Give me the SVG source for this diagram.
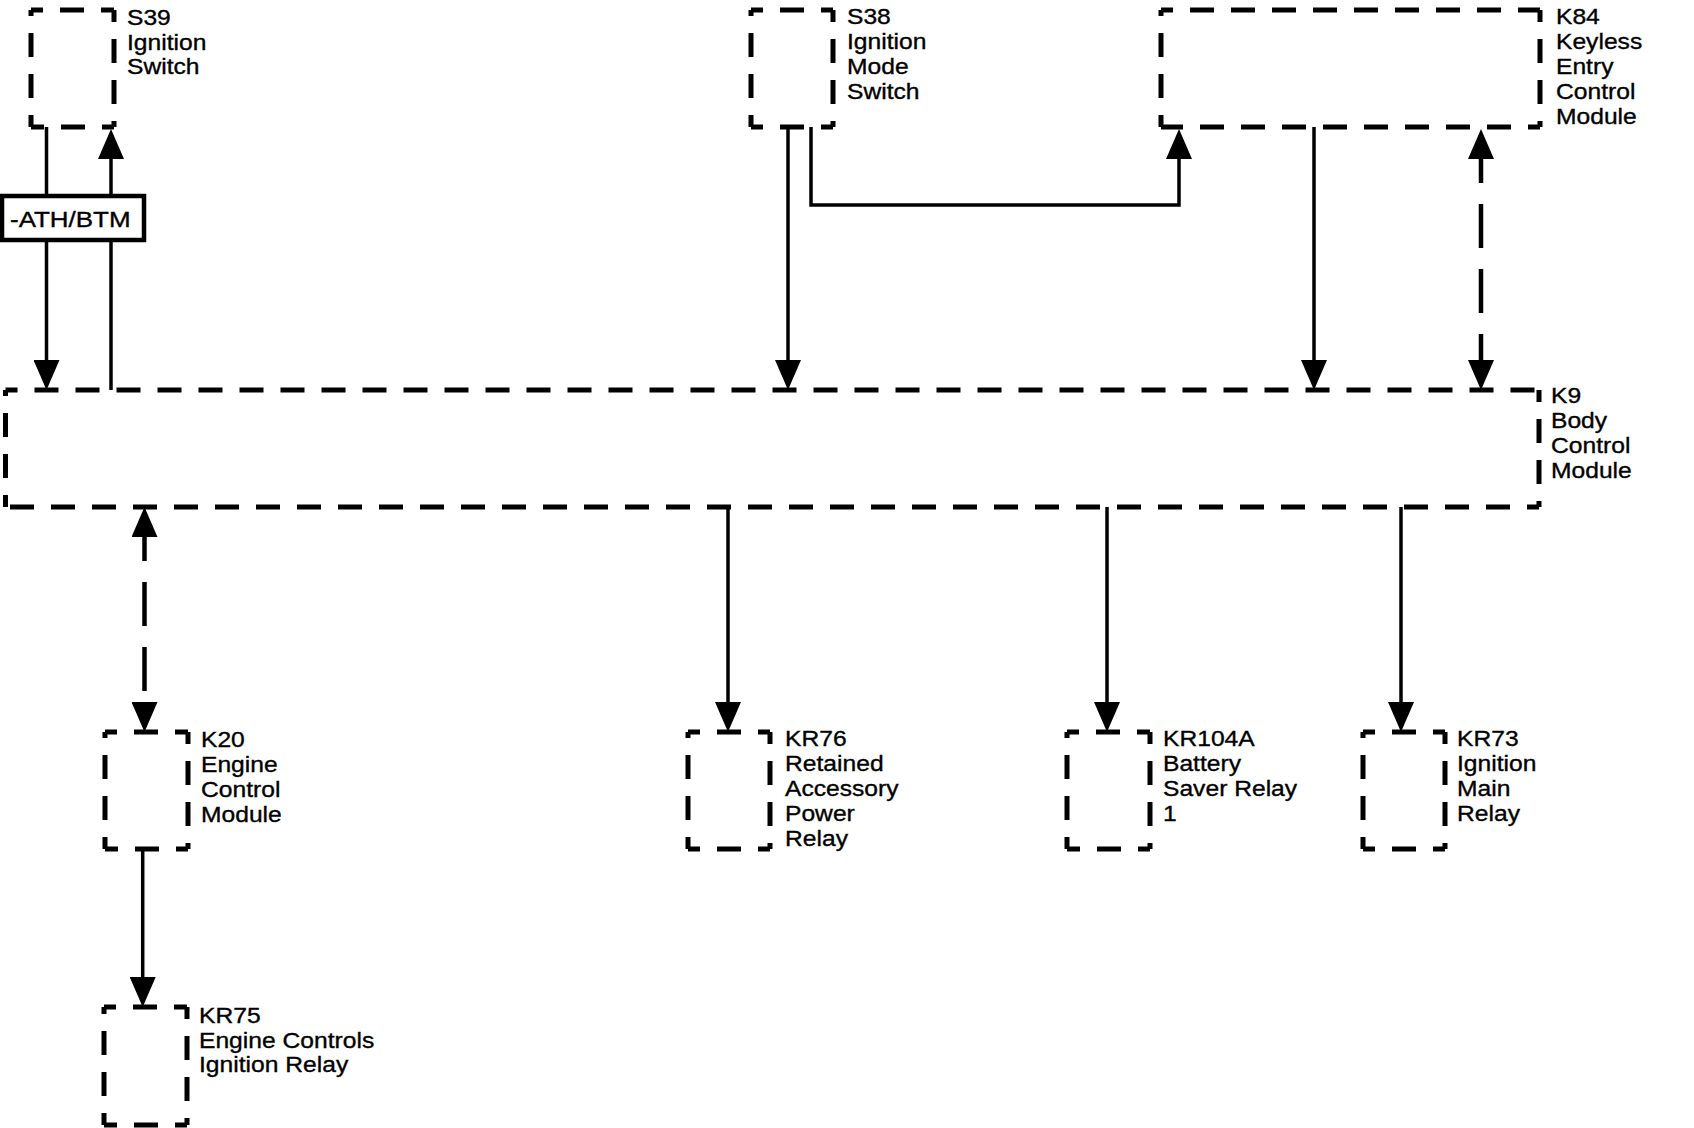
<svg xmlns="http://www.w3.org/2000/svg" width="1694" height="1128" viewBox="0 0 1694 1128">
<style>
.box{fill:none;stroke:#000;stroke-width:5;stroke-dasharray:24 17;stroke-dashoffset:12}
.lbl{font-family:"Liberation Sans",Arial,Helvetica,sans-serif;font-size:22px;fill:#000;stroke:#000;stroke-width:0.35}
.wire{fill:none;stroke:#000;stroke-width:3.5;marker-end:url(#arr)}
.dwire{fill:none;stroke:#000;stroke-width:4.5;stroke-dasharray:44 21;stroke-dashoffset:60;marker-start:url(#arr);marker-end:url(#arr)}
.tag{fill:#fff;stroke:#000;stroke-width:4.5}
</style>
<defs>
<marker id="arr" markerUnits="userSpaceOnUse" markerWidth="30" markerHeight="26" viewBox="0 0 30 26" refX="25" refY="13" orient="auto-start-reverse">
<path d="M0,0 L30,13 L0,26 Z" fill="#000"/>
</marker>
</defs>
<rect width="1694" height="1128" fill="#fff"/>
<g id="connectors">
<path class="wire" d="M46.5 127 V385"/>
<path class="wire" d="M111 390 V134"/>
<path class="wire" d="M788 127 V385"/>
<path class="wire" d="M811 127 V205 H1179 V134"/>
<path class="wire" d="M1314 127 V385"/>
<path class="dwire" d="M1481 134 V385"/>
<path class="dwire" d="M144.5 512 V727"/>
<path class="wire" d="M728 507 V727"/>
<path class="wire" d="M1107 507 V727"/>
<path class="wire" d="M1401 507 V727"/>
<path class="wire" d="M142.7 849 V1002"/>
<g id="tag-ath">
<rect class="tag" x="2" y="196" width="142" height="44"/>
<text class="lbl" transform="matrix(1.18 0 0 1 10 0)"><tspan x="0" y="227">-ATH/BTM</tspan></text>
</g>
</g>
<g id="S39">
<path class="box" d="M31 10 H114 M114 10 V127 M114 127 H31 M31 127 V10"/>
<text class="lbl" transform="matrix(1.12 0 0 1 127 0)"><tspan x="0" y="25">S39</tspan><tspan x="0" y="50">Ignition</tspan><tspan x="0" y="74">Switch</tspan></text>
</g>
<g id="S38">
<path class="box" d="M751 10 H833 M833 10 V127 M833 127 H751 M751 127 V10"/>
<text class="lbl" transform="matrix(1.12 0 0 1 847 0)"><tspan x="0" y="24.5">S38</tspan><tspan x="0" y="49.3">Ignition</tspan><tspan x="0" y="74.1">Mode</tspan><tspan x="0" y="98.9">Switch</tspan></text>
</g>
<g id="K84">
<path class="box" d="M1161 10 H1540 M1540 10 V127 M1540 127 H1161 M1161 127 V10"/>
<text class="lbl" transform="matrix(1.12 0 0 1 1556 0)"><tspan x="0" y="24.5">K84</tspan><tspan x="0" y="49.3">Keyless</tspan><tspan x="0" y="74.1">Entry</tspan><tspan x="0" y="98.9">Control</tspan><tspan x="0" y="123.7">Module</tspan></text>
</g>
<g id="K9">
<path class="box" d="M5.5 390 H1539 M1539 390 V507 M1539 507 H5.5 M5.5 507 V390"/>
<text class="lbl" transform="matrix(1.12 0 0 1 1551 0)"><tspan x="0" y="403">K9</tspan><tspan x="0" y="428">Body</tspan><tspan x="0" y="453">Control</tspan><tspan x="0" y="478">Module</tspan></text>
</g>
<g id="K20">
<path class="box" d="M105 732 H188 M188 732 V849 M188 849 H105 M105 849 V732"/>
<text class="lbl" transform="matrix(1.12 0 0 1 201 0)"><tspan x="0" y="747">K20</tspan><tspan x="0" y="772">Engine</tspan><tspan x="0" y="797">Control</tspan><tspan x="0" y="822">Module</tspan></text>
</g>
<g id="KR76">
<path class="box" d="M688 732 H770 M770 732 V849 M770 849 H688 M688 849 V732"/>
<text class="lbl" transform="matrix(1.12 0 0 1 785 0)"><tspan x="0" y="746">KR76</tspan><tspan x="0" y="771.5">Retained</tspan><tspan x="0" y="796.5">Accessory</tspan><tspan x="0" y="821.5">Power</tspan><tspan x="0" y="846.5">Relay</tspan></text>
</g>
<g id="KR104A">
<path class="box" d="M1067 732 H1150 M1150 732 V849 M1150 849 H1067 M1067 849 V732"/>
<text class="lbl" transform="matrix(1.12 0 0 1 1163 0)"><tspan x="0" y="746">KR104A</tspan><tspan x="0" y="771.5">Battery</tspan><tspan x="0" y="796.5">Saver Relay</tspan><tspan x="0" y="821.5">1</tspan></text>
</g>
<g id="KR73">
<path class="box" d="M1363 732 H1445 M1445 732 V849 M1445 849 H1363 M1363 849 V732"/>
<text class="lbl" transform="matrix(1.12 0 0 1 1457 0)"><tspan x="0" y="746">KR73</tspan><tspan x="0" y="771.5">Ignition</tspan><tspan x="0" y="796.5">Main</tspan><tspan x="0" y="821.5">Relay</tspan></text>
</g>
<g id="KR75">
<path class="box" d="M104 1007 H187 M187 1007 V1125 M187 1125 H104 M104 1125 V1007"/>
<text class="lbl" transform="matrix(1.12 0 0 1 199 0)"><tspan x="0" y="1023">KR75</tspan><tspan x="0" y="1048">Engine Controls</tspan><tspan x="0" y="1072">Ignition Relay</tspan></text>
</g>
</svg>
